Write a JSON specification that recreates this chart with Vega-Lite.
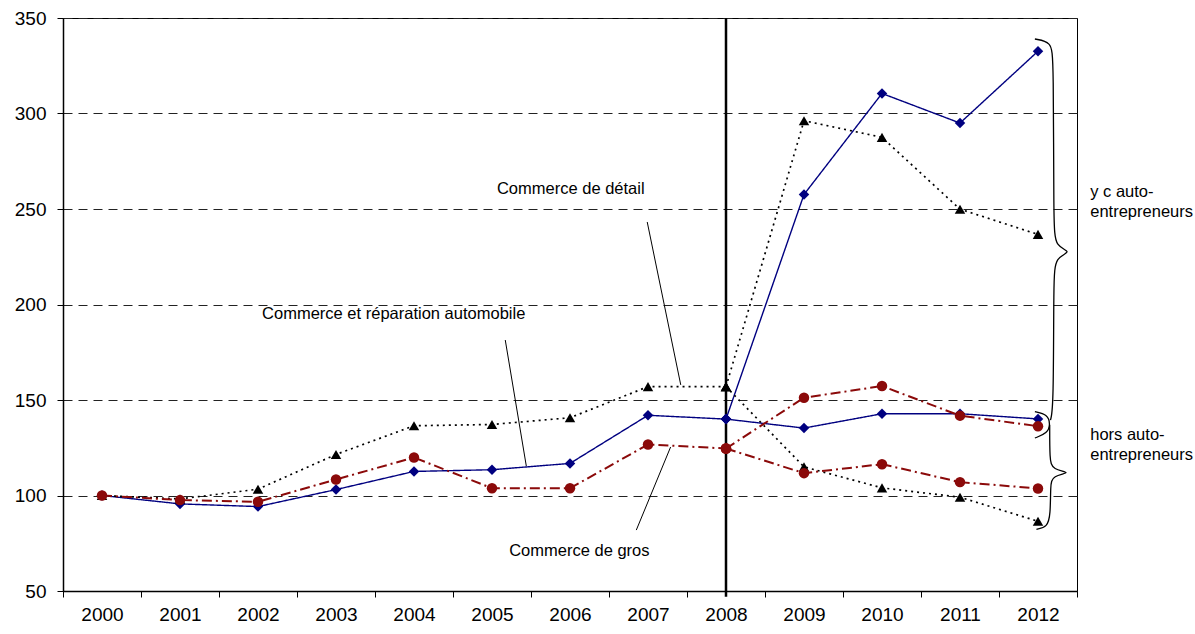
{
  "$schema": "https://vega.github.io/schema/vega-lite/v6.json",
  "width": 1014,
  "height": 573,
  "autosize": {"type": "none"},
  "padding": {"left": 63, "top": 18, "right": 118, "bottom": 43},
  "background": "white",
  "config": {
    "view": {"stroke": "#000", "strokeWidth": 1},
    "font": "Liberation Sans"
  },
  "datasets": {
    "series": [
      {"secteur": "Commerce et réparation automobile", "champ": "ensemble", "annee": 2000, "indice": 100},
      {"secteur": "Commerce et réparation automobile", "champ": "ensemble", "annee": 2001, "indice": 95.6},
      {"secteur": "Commerce et réparation automobile", "champ": "ensemble", "annee": 2002, "indice": 94.2},
      {"secteur": "Commerce et réparation automobile", "champ": "ensemble", "annee": 2003, "indice": 103.1},
      {"secteur": "Commerce et réparation automobile", "champ": "ensemble", "annee": 2004, "indice": 112.6},
      {"secteur": "Commerce et réparation automobile", "champ": "ensemble", "annee": 2005, "indice": 113.5},
      {"secteur": "Commerce et réparation automobile", "champ": "ensemble", "annee": 2006, "indice": 116.8},
      {"secteur": "Commerce et réparation automobile", "champ": "ensemble", "annee": 2007, "indice": 142},
      {"secteur": "Commerce et réparation automobile", "champ": "ensemble", "annee": 2008, "indice": 140},
      {"secteur": "Commerce et réparation automobile", "champ": "y c auto-entrepreneurs", "annee": 2008, "indice": 140},
      {"secteur": "Commerce et réparation automobile", "champ": "y c auto-entrepreneurs", "annee": 2009, "indice": 257.6},
      {"secteur": "Commerce et réparation automobile", "champ": "y c auto-entrepreneurs", "annee": 2010, "indice": 310.5},
      {"secteur": "Commerce et réparation automobile", "champ": "y c auto-entrepreneurs", "annee": 2011, "indice": 295},
      {"secteur": "Commerce et réparation automobile", "champ": "y c auto-entrepreneurs", "annee": 2012, "indice": 332.6},
      {"secteur": "Commerce et réparation automobile", "champ": "hors auto-entrepreneurs", "annee": 2008, "indice": 140},
      {"secteur": "Commerce et réparation automobile", "champ": "hors auto-entrepreneurs", "annee": 2009, "indice": 135.3},
      {"secteur": "Commerce et réparation automobile", "champ": "hors auto-entrepreneurs", "annee": 2010, "indice": 142.8},
      {"secteur": "Commerce et réparation automobile", "champ": "hors auto-entrepreneurs", "annee": 2011, "indice": 142.8},
      {"secteur": "Commerce et réparation automobile", "champ": "hors auto-entrepreneurs", "annee": 2012, "indice": 140.1},
      {"secteur": "Commerce de détail", "champ": "ensemble", "annee": 2000, "indice": 100},
      {"secteur": "Commerce de détail", "champ": "ensemble", "annee": 2001, "indice": 98.2},
      {"secteur": "Commerce de détail", "champ": "ensemble", "annee": 2002, "indice": 103.3},
      {"secteur": "Commerce de détail", "champ": "ensemble", "annee": 2003, "indice": 121.5},
      {"secteur": "Commerce de détail", "champ": "ensemble", "annee": 2004, "indice": 136.5},
      {"secteur": "Commerce de détail", "champ": "ensemble", "annee": 2005, "indice": 137.2},
      {"secteur": "Commerce de détail", "champ": "ensemble", "annee": 2006, "indice": 140.7},
      {"secteur": "Commerce de détail", "champ": "ensemble", "annee": 2007, "indice": 157},
      {"secteur": "Commerce de détail", "champ": "ensemble", "annee": 2008, "indice": 157},
      {"secteur": "Commerce de détail", "champ": "y c auto-entrepreneurs", "annee": 2008, "indice": 157},
      {"secteur": "Commerce de détail", "champ": "y c auto-entrepreneurs", "annee": 2009, "indice": 296.2},
      {"secteur": "Commerce de détail", "champ": "y c auto-entrepreneurs", "annee": 2010, "indice": 287.5},
      {"secteur": "Commerce de détail", "champ": "y c auto-entrepreneurs", "annee": 2011, "indice": 249.9},
      {"secteur": "Commerce de détail", "champ": "y c auto-entrepreneurs", "annee": 2012, "indice": 236.7},
      {"secteur": "Commerce de détail", "champ": "hors auto-entrepreneurs", "annee": 2008, "indice": 157},
      {"secteur": "Commerce de détail", "champ": "hors auto-entrepreneurs", "annee": 2009, "indice": 115},
      {"secteur": "Commerce de détail", "champ": "hors auto-entrepreneurs", "annee": 2010, "indice": 104},
      {"secteur": "Commerce de détail", "champ": "hors auto-entrepreneurs", "annee": 2011, "indice": 99.1},
      {"secteur": "Commerce de détail", "champ": "hors auto-entrepreneurs", "annee": 2012, "indice": 86.5},
      {"secteur": "Commerce de gros", "champ": "ensemble", "annee": 2000, "indice": 100},
      {"secteur": "Commerce de gros", "champ": "ensemble", "annee": 2001, "indice": 97.6},
      {"secteur": "Commerce de gros", "champ": "ensemble", "annee": 2002, "indice": 96.7},
      {"secteur": "Commerce de gros", "champ": "ensemble", "annee": 2003, "indice": 108.4},
      {"secteur": "Commerce de gros", "champ": "ensemble", "annee": 2004, "indice": 119.9},
      {"secteur": "Commerce de gros", "champ": "ensemble", "annee": 2005, "indice": 103.8},
      {"secteur": "Commerce de gros", "champ": "ensemble", "annee": 2006, "indice": 103.8},
      {"secteur": "Commerce de gros", "champ": "ensemble", "annee": 2007, "indice": 126.7},
      {"secteur": "Commerce de gros", "champ": "ensemble", "annee": 2008, "indice": 124.6},
      {"secteur": "Commerce de gros", "champ": "y c auto-entrepreneurs", "annee": 2008, "indice": 124.6},
      {"secteur": "Commerce de gros", "champ": "y c auto-entrepreneurs", "annee": 2009, "indice": 151.2},
      {"secteur": "Commerce de gros", "champ": "y c auto-entrepreneurs", "annee": 2010, "indice": 157.3},
      {"secteur": "Commerce de gros", "champ": "y c auto-entrepreneurs", "annee": 2011, "indice": 141.8},
      {"secteur": "Commerce de gros", "champ": "y c auto-entrepreneurs", "annee": 2012, "indice": 136.3},
      {"secteur": "Commerce de gros", "champ": "hors auto-entrepreneurs", "annee": 2008, "indice": 124.6},
      {"secteur": "Commerce de gros", "champ": "hors auto-entrepreneurs", "annee": 2009, "indice": 111.7},
      {"secteur": "Commerce de gros", "champ": "hors auto-entrepreneurs", "annee": 2010, "indice": 116.4},
      {"secteur": "Commerce de gros", "champ": "hors auto-entrepreneurs", "annee": 2011, "indice": 107},
      {"secteur": "Commerce de gros", "champ": "hors auto-entrepreneurs", "annee": 2012, "indice": 103.7}
    ],
    "rupture": [
      {"annee": 2008, "indice": 47, "indice2": 350}
    ],
    "leaders": [
      {"annee": 2006.99, "indice": 243.2, "annee2": 2007.42, "indice2": 157.9},
      {"annee": 2005.17, "indice": 181.4, "annee2": 2005.44, "indice2": 115.4},
      {"annee": 2006.85, "indice": 81.9, "annee2": 2007.29, "indice2": 125.4}
    ],
    "labels": [
      {"annee": 2006.01, "indice": 260.5, "texte": "Commerce de détail"},
      {"annee": 2003.74, "indice": 195.0, "texte": "Commerce et réparation automobile"},
      {"annee": 2006.12, "indice": 70.9, "texte": "Commerce de gros"}
    ],
    "cotes": [
      {"annee": 2012.67, "indice": 258.7, "texte": "y c auto-\nentrepreneurs"},
      {"annee": 2012.67, "indice": 131.7, "texte": "hors auto-\nentrepreneurs"}
    ],
    "braces": [
      {"accolade": "yc", "i": 1, "annee": 2011.96, "indice": 339.0},
      {"accolade": "yc", "i": 2, "annee": 2012.17, "indice": 337.5},
      {"accolade": "yc", "i": 3, "annee": 2012.2, "indice": 329},
      {"accolade": "yc", "i": 4, "annee": 2012.2, "indice": 242},
      {"accolade": "yc", "i": 5, "annee": 2012.22, "indice": 230},
      {"accolade": "yc", "i": 6, "annee": 2012.45, "indice": 227.6},
      {"accolade": "yc", "i": 7, "annee": 2012.22, "indice": 225},
      {"accolade": "yc", "i": 8, "annee": 2012.2, "indice": 213},
      {"accolade": "yc", "i": 9, "annee": 2012.2, "indice": 146},
      {"accolade": "yc", "i": 10, "annee": 2012.16, "indice": 139.5},
      {"accolade": "par", "i": 1, "annee": 2011.96, "indice": 143.9},
      {"accolade": "par", "i": 2, "annee": 2012.12, "indice": 142.5},
      {"accolade": "par", "i": 3, "annee": 2012.16, "indice": 137.5},
      {"accolade": "par", "i": 4, "annee": 2012.12, "indice": 132.5},
      {"accolade": "par", "i": 5, "annee": 2011.96, "indice": 130.1},
      {"accolade": "hors", "i": 1, "annee": 2012.15, "indice": 137},
      {"accolade": "hors", "i": 2, "annee": 2012.15, "indice": 119},
      {"accolade": "hors", "i": 3, "annee": 2012.18, "indice": 113.5},
      {"accolade": "hors", "i": 4, "annee": 2012.45, "indice": 112},
      {"accolade": "hors", "i": 5, "annee": 2012.18, "indice": 110.5},
      {"accolade": "hors", "i": 6, "annee": 2012.16, "indice": 105},
      {"accolade": "hors", "i": 7, "annee": 2012.16, "indice": 90},
      {"accolade": "hors", "i": 8, "annee": 2012.12, "indice": 83.5},
      {"accolade": "hors", "i": 9, "annee": 2011.98, "indice": 82.3}
    ]
  },
  "encoding": {
    "x": {
      "field": "annee",
      "type": "quantitative",
      "scale": {"domain": [1999.5, 2012.5], "nice": false, "zero": false},
      "axis": {
        "title": null,
        "values": [1999.5, 2000.5, 2001.5, 2002.5, 2003.5, 2004.5, 2005.5, 2006.5, 2007.5, 2008.5, 2009.5, 2010.5, 2011.5, 2012.5],
        "labelExpr": "datum.value < 2012.4 ? format(datum.value + 0.5, 'd') : ''",
        "labelOffset": 39,
        "labelFlush": false,
        "labelOverlap": false,
        "labelBound": false,
        "labelFontSize": 19,
        "labelFont": "Liberation Sans",
        "labelColor": "#000",
        "labelPadding": 8,
        "tickSize": 6,
        "tickColor": "#000",
        "domainColor": "#000",
        "domainWidth": 1.5,
        "grid": false
      }
    },
    "y": {
      "field": "indice",
      "type": "quantitative",
      "scale": {"domain": [50, 350], "nice": false, "zero": false},
      "axis": {
        "title": null,
        "values": [50, 100, 150, 200, 250, 300, 350],
        "labelFontSize": 19,
        "labelFont": "Liberation Sans",
        "labelColor": "#000",
        "labelPadding": 11,
        "tickSize": 6,
        "tickColor": "#000",
        "domainColor": "#000",
        "domainWidth": 1.5,
        "grid": true,
        "gridColor": "#222",
        "gridDash": [9, 6],
        "gridWidth": 1
      }
    }
  },
  "layer": [
    {
      "data": {"name": "rupture"},
      "mark": {"type": "rule", "color": "#000", "strokeWidth": 2.5},
      "encoding": {"y2": {"field": "indice2"}}
    },
    {
      "data": {"name": "series"},
      "mark": {"type": "line"},
      "encoding": {
        "color": {"field": "secteur", "type": "nominal", "legend": null,
          "scale": {"domain": ["Commerce et réparation automobile", "Commerce de détail", "Commerce de gros"], "range": ["#000080", "#000000", "#8b0a0a"]}},
        "strokeDash": {"field": "secteur", "type": "nominal", "legend": null,
          "scale": {"domain": ["Commerce et réparation automobile", "Commerce de détail", "Commerce de gros"], "range": [[1, 0], [2, 4], [10, 4, 2, 4]]}},
        "strokeWidth": {"field": "secteur", "type": "nominal", "legend": null,
          "scale": {"domain": ["Commerce et réparation automobile", "Commerce de détail", "Commerce de gros"], "range": [1.4, 2, 2]}},
        "detail": {"field": "champ"}
      }
    },
    {
      "data": {"name": "series"},
      "mark": {"type": "point", "filled": true, "opacity": 1},
      "encoding": {
        "color": {"field": "secteur", "type": "nominal", "legend": null},
        "shape": {"field": "secteur", "type": "nominal", "legend": null,
          "scale": {"domain": ["Commerce et réparation automobile", "Commerce de détail", "Commerce de gros"], "range": ["diamond", "triangle-up", "circle"]}},
        "size": {"field": "secteur", "type": "nominal", "legend": null,
          "scale": {"domain": ["Commerce et réparation automobile", "Commerce de détail", "Commerce de gros"], "range": [110, 110, 80]}}
      }
    },
    {
      "data": {"name": "leaders"},
      "mark": {"type": "rule", "color": "#000", "strokeWidth": 1},
      "encoding": {
        "x2": {"field": "annee2"},
        "y2": {"field": "indice2"}
      }
    },
    {
      "data": {"name": "labels"},
      "mark": {"type": "text", "font": "Liberation Sans", "fontSize": 16.5, "color": "#000", "align": "center", "baseline": "middle"},
      "encoding": {"text": {"field": "texte"}}
    },
    {
      "data": {"name": "braces"},
      "mark": {"type": "line", "interpolate": "basis", "color": "#000", "strokeWidth": 1.3},
      "encoding": {
        "detail": {"field": "accolade"},
        "order": {"field": "i", "type": "quantitative"}
      }
    },
    {
      "data": {"name": "cotes"},
      "mark": {"type": "text", "font": "Liberation Sans", "fontSize": 16.5, "color": "#000", "align": "left", "baseline": "middle", "lineBreak": "\n", "lineHeight": 20},
      "encoding": {"text": {"field": "texte"}}
    }
  ]
}
